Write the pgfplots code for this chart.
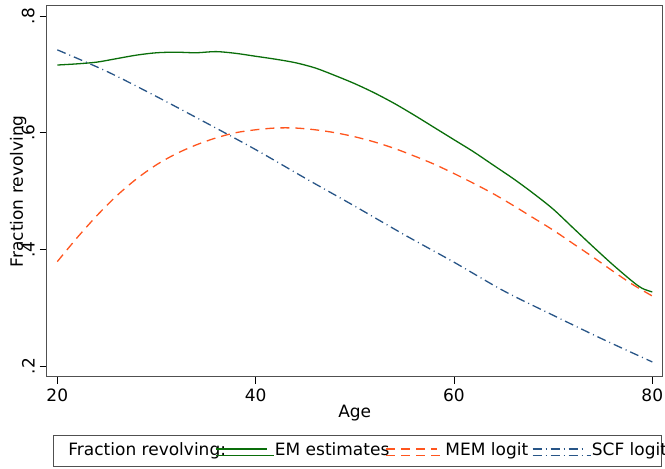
\documentclass[border=0pt]{standalone}
\usepackage{pgfplots}
\pgfplotsset{compat=1.18}
\usepackage{fontspec}
\setmainfont{DejaVu Sans}

\definecolor{emgreen}{RGB}{10,110,10}
\definecolor{memorange}{RGB}{255,85,30}
\definecolor{scfblue}{RGB}{40,85,135}
\definecolor{framegray}{RGB}{80,80,80}

\begin{document}
\fontsize{17bp}{20bp}\selectfont
\begin{tikzpicture}
\useasboundingbox (-46.7bp,-92.3bp) rectangle (618.3bp,376.7bp);
\begin{axis}[
  scale only axis,
  width=616bp, height=371bp,
  xmin=18.93, xmax=81.05,
  ymin=0.1817, ymax=0.8177,
  xtick={20,40,60,80},
  ytick={0.2,0.4,0.6,0.8},
  yticklabels={.2,.4,.6,.8},
  /pgf/number format/assume math mode=true,
  tick align=outside,
  major tick length=7bp,
  tick style={black, line width=0.8bp},
  axis line style={framegray, line width=1.2bp},
  xtick pos=bottom, ytick pos=left,
  xticklabel style={anchor=north, inner sep=0pt, font=\fontsize{17bp}{20bp}\selectfont},
  yticklabel style={anchor=south, rotate=90, inner sep=0pt, font=\fontsize{17bp}{20bp}\selectfont},
  xticklabel shift=4.5bp,
  yticklabel shift=5bp,
  xlabel={Age},
  ylabel={Fraction revolving},
  xlabel style={at={(axis description cs:0.5,0)}, anchor=north, yshift=-28bp, inner sep=0pt},
  ylabel style={at={([xshift=-28.5bp]axis description cs:0,0.5)}, anchor=center, inner sep=0pt},
  legend columns=-1,
  legend style={
    at={(axis description cs:0,0)}, anchor=north west,
    xshift=6bp, yshift=-58.3bp,
    draw=framegray, line width=0.8bp,
    inner xsep=0pt, inner ysep=7.5bp,
    column sep=0pt,
    nodes={inner sep=0pt, text height=12.6bp, text depth=3.6bp, anchor=base west},
    font=\fontsize{17bp}{20bp}\selectfont,
  },
  legend image code/.code={
    \draw[#1, line width=1.3bp] (0bp,6.5bp) -- (51bp,6.5bp);
    \path (0bp,0bp) -- (58.5bp,0bp);
  },
]
\addlegendimage{empty legend}
\addlegendentry{\hspace*{15.3bp}\makebox[146.7bp][l]{Fraction revolving:}}

% EM estimates
\addplot[emgreen, line width=1.3bp, smooth] coordinates {
(20,0.716) (22,0.718) (24,0.721) (26,0.727) (28,0.733) (30,0.737)
(32,0.738) (34,0.737) (36,0.739) (38,0.736) (40,0.731) (42,0.726)
(44,0.720) (46,0.711) (48,0.698) (50,0.684) (52,0.668) (54,0.650)
(56,0.630) (58,0.609) (60,0.588) (62,0.567) (64,0.544) (66,0.521)
(68,0.496) (70,0.469) (72,0.437) (74,0.405) (76,0.374) (78,0.345)
(79,0.333) (80,0.327)
};
\addlegendentry{\makebox[110.7bp][l]{EM estimates}}

% MEM logit
\addplot[memorange, line width=1.3bp, dash pattern=on 9bp off 6bp, smooth] coordinates {
(20,0.379) (22,0.420) (24,0.458) (26,0.492) (28,0.521) (30,0.545)
(32,0.564) (34,0.579) (36,0.591) (38,0.600) (40,0.605) (42,0.608)
(44,0.608) (46,0.605) (48,0.600) (50,0.593) (52,0.584) (54,0.573)
(56,0.560) (58,0.546) (60,0.530) (62,0.513) (64,0.495) (66,0.475)
(68,0.454) (70,0.433) (72,0.410) (74,0.387) (76,0.363) (78,0.340)
(80,0.320)
};
\addlegendentry{\makebox[86.7bp][l]{MEM logit}}

% SCF logit
\addplot[scfblue, line width=1.3bp, dash pattern=on 9bp off 4bp on 1bp off 4bp, smooth] coordinates {
(20,0.742) (25,0.705) (30,0.662) (35,0.617) (40,0.571) (45,0.522)
(50,0.474) (55,0.425) (60,0.378) (65,0.329) (70,0.287) (75,0.246)
(80,0.207)
};
\addlegendentry{\makebox[69bp][l]{SCF logit}}
\end{axis}
\end{tikzpicture}
\end{document}
